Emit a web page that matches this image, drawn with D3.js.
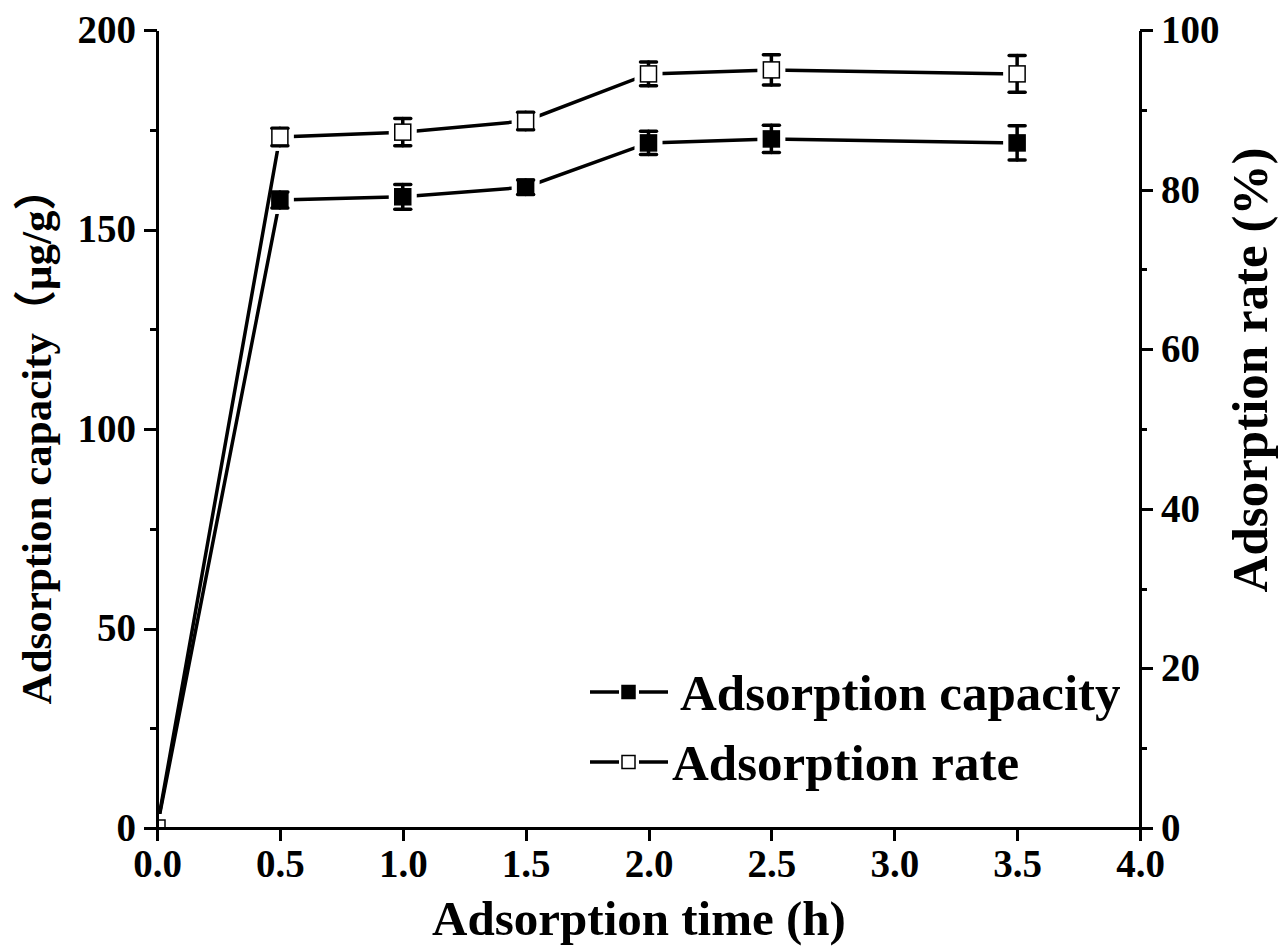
<!DOCTYPE html>
<html lang="en">
<head>
<meta charset="UTF-8">
<title>Adsorption capacity and rate vs time</title>
<script src="https://d3js.org/d3.v7.min.js"></script>
<style>
    body { margin: 0; background: #fff; }
    svg text { font-family: "Liberation Serif", "Times New Roman", "Noto Sans CJK SC", serif; font-weight: bold; fill: #000; }
    .axis path, .axis line { stroke: #000; stroke-width: 3; shape-rendering: crispEdges; }
    .axis text { font-size: 39px; font-family: "Liberation Serif", serif; }
</style>
</head>
<body>
<div id="chart"></div>
<script>
    // data
    const times = [0, 0.5, 1.0, 1.5, 2.0, 2.5, 3.5];
    const capacity = [0, 157.4, 158.2, 160.6, 171.7, 172.7, 171.7];
    const capacityErr = [0, 2.0, 3.1, 1.8, 2.9, 3.4, 4.3];
    const rate = [0, 86.6, 87.2, 88.6, 94.5, 95.0, 94.5];
    const rateErr = [0, 1.1, 1.7, 1.1, 1.5, 1.9, 2.3];
    const xTicks = [0, 0.5, 1.0, 1.5, 2.0, 2.5, 3.0, 3.5, 4.0];
    const leftTicks = [0, 50, 100, 150, 200];
    const rightTicks = [0, 20, 40, 60, 80, 100];

    const W = 1281, H = 949;
    const margin = {top: 30, right: 141, bottom: 121, left: 157};
    const width = W - margin.left - margin.right,
          height = H - margin.top - margin.bottom;

    const svg = d3.select("#chart").append("svg")
        .attr("width", W).attr("height", H);

    const g = svg.append("g")
        .attr("transform", `translate(${margin.left},${margin.top})`);

    const x = d3.scaleLinear().domain([0, 4]).range([0, width]);
    const yL = d3.scaleLinear().domain([0, 200]).range([height, 0]);
    const yR = d3.scaleLinear().domain([0, 100]).range([height, 0]);

    g.append("clipPath").attr("id", "plotclip")
        .append("rect").attr("width", width).attr("height", height);

    const capData = times.map((t, i) => ({t, v: capacity[i], e: capacityErr[i]}));
    const rateData = times.map((t, i) => ({t, v: rate[i], e: rateErr[i]}));

    const plot = g.append("g").attr("clip-path", "url(#plotclip)");

    function drawSeries(data, y, filled) {
        const line = d3.line().x(d => x(d.t)).y(d => y(d.v));
        plot.append("path").datum(data)
            .attr("fill", "none").attr("stroke", "#000")
            .attr("stroke-width", 3.5).attr("d", line);

        // white gap round each marker
        plot.selectAll(null).data(data).enter().append("rect")
            .attr("x", d => x(d.t) - 14).attr("y", d => y(d.v) - 14)
            .attr("width", 28).attr("height", 28).attr("fill", "#fff");

        const eb = plot.selectAll(null).data(data.filter(d => d.e > 0)).enter().append("g")
            .attr("stroke", "#000").attr("stroke-width", 3.5).attr("stroke-linecap", "round");
        eb.append("line")
            .attr("x1", d => x(d.t)).attr("x2", d => x(d.t))
            .attr("y1", d => y(d.v + d.e)).attr("y2", d => y(d.v - d.e));
        eb.append("line")
            .attr("x1", d => x(d.t) - 8).attr("x2", d => x(d.t) + 8)
            .attr("y1", d => y(d.v + d.e)).attr("y2", d => y(d.v + d.e));
        eb.append("line")
            .attr("x1", d => x(d.t) - 8).attr("x2", d => x(d.t) + 8)
            .attr("y1", d => y(d.v - d.e)).attr("y2", d => y(d.v - d.e));

        plot.selectAll(null).data(data).enter().append("rect")
            .attr("x", d => x(d.t) - 8).attr("y", d => y(d.v) - 8)
            .attr("width", 16).attr("height", 16)
            .attr("fill", filled ? "#000" : "#fff")
            .attr("stroke", "#000").attr("stroke-width", 1.5);
    }

    drawSeries(capData, yL, true);
    drawSeries(rateData, yR, false);

    // axes
    g.append("g").attr("class", "axis")
        .attr("transform", `translate(0,${height})`)
        .call(d3.axisBottom(x).tickValues(xTicks).tickFormat(d3.format(".1f"))
            .tickSize(13).tickPadding(8).tickSizeOuter(0));

    g.append("g").attr("class", "axis")
        .call(d3.axisLeft(yL).tickValues(d3.range(0, 201, 25)).tickFormat("")
            .tickSize(7).tickSizeOuter(0));
    g.append("g").attr("class", "axis")
        .call(d3.axisLeft(yL).tickValues(leftTicks).tickSize(13).tickPadding(8).tickSizeOuter(0))
        .select(".domain").remove();

    g.append("g").attr("class", "axis")
        .attr("transform", `translate(${width},0)`)
        .call(d3.axisRight(yR).tickValues(d3.range(0, 101, 10)).tickFormat("")
            .tickSize(7).tickSizeOuter(0));
    g.append("g").attr("class", "axis")
        .attr("transform", `translate(${width},0)`)
        .call(d3.axisRight(yR).tickValues(rightTicks).tickSize(13).tickPadding(8).tickSizeOuter(0))
        .select(".domain").remove();

    // axis titles
    svg.append("text")
        .attr("x", 639).attr("y", 935)
        .attr("text-anchor", "middle").style("font-size", "49px")
        .text("Adsorption time (h)");

    svg.append("text")
        .attr("transform", `translate(51,436) rotate(-90)`)
        .attr("text-anchor", "middle").style("font-size", "43px")
        .text("Adsorption capacity（μg/g）");

    svg.append("text")
        .attr("transform", `translate(1267,370) rotate(-90)`)
        .attr("text-anchor", "middle").style("font-size", "51px")
        .text("Adsorption rate (%)");

    // legend
    const legendItems = [
        {label: "Adsorption capacity", filled: true, tx: 680},
        {label: "Adsorption rate", filled: false, tx: 672}
    ];
    const legend = svg.selectAll(".legend").data(legendItems).enter().append("g")
        .attr("class", "legend")
        .attr("transform", (d, i) => `translate(0,${692 + i * 70})`);
    legend.append("line")
        .attr("x1", 590).attr("x2", 668).attr("y1", 0).attr("y2", 0)
        .attr("stroke", "#000").attr("stroke-width", 3.5);
    legend.append("rect")
        .attr("x", 619).attr("y", -10).attr("width", 20).attr("height", 20).attr("fill", "#fff");
    legend.append("rect")
        .attr("x", 622).attr("y", -6.5).attr("width", 13).attr("height", 13)
        .attr("fill", d => d.filled ? "#000" : "#fff")
        .attr("stroke", "#000").attr("stroke-width", 1.5);
    legend.append("text")
        .attr("x", d => d.tx).attr("y", 18)
        .style("font-size", "51px")
        .text(d => d.label);
</script>
</body>
</html>
